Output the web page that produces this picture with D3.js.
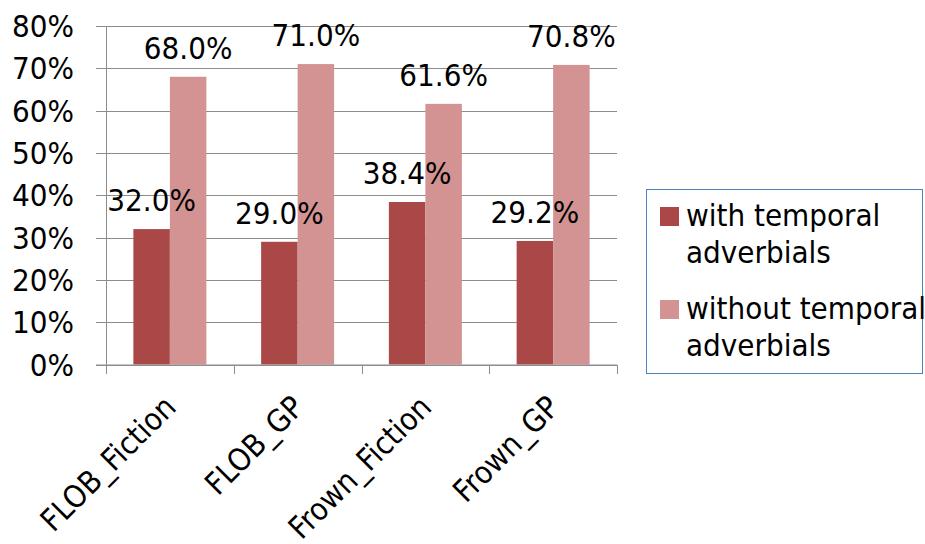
<!DOCTYPE html>
<html lang="en">
<head>
  <meta charset="UTF-8">
  <title>Temporal adverbials</title>
  <script src="https://d3js.org/d3.v7.min.js"></script>
  <style>
    body { margin: 0; background: #fff; }
    text { font-family: "DejaVu Sans Condensed", "DejaVu Sans", sans-serif; font-stretch: condensed; fill: #000; }
  </style>
</head>
<body>
  <div id="chart"></div>
  <script>
    const width = 925;
    const height = 544;

    // Datos
    const categories = ["FLOB_Fiction", "FLOB_GP", "Frown_Fiction", "Frown_GP"];
    const seriesNames = ["with temporal adverbials", "without temporal adverbials"];
    const withTemporal = [32.0, 29.0, 38.4, 29.2];
    const withoutTemporal = [68.0, 71.0, 61.6, 70.8];
    const yTicks = [0, 10, 20, 30, 40, 50, 60, 70, 80];
    const colors = ["#a94846", "#d29392"];

    const legendLines = [["with temporal", "adverbials"], ["without temporal", "adverbials"]];

    const rows = categories.map((c, i) => ({ cat: c, vals: [withTemporal[i], withoutTemporal[i]] }));

    const fs = 31;

    const svg = d3.select("#chart").append("svg")
      .attr("width", width)
      .attr("height", height);

    const x = d3.scaleBand().domain(categories).range([106, 617]).paddingInner(0).paddingOuter(0);
    const y = d3.scaleLinear().domain([0, 80]).range([364.5, 26]);
    const inner = d3.scaleBand().domain([0, 1]).range([0, 73]);

    // grid lines
    svg.append("g").selectAll("line").data(yTicks).join("line")
      .attr("x1", 96).attr("x2", 617)
      .attr("y1", d => Math.round(y(d)) + 0.5).attr("y2", d => Math.round(y(d)) + 0.5)
      .attr("stroke", "#8c8c8c").attr("stroke-width", 1);

    // y labels
    svg.append("g").selectAll("text").data(yTicks).join("text")
      .attr("x", 74).attr("y", d => y(d))
      .attr("dy", "0.36em")
      .attr("text-anchor", "end")
      .attr("font-size", fs)
      .text(d => d + "%");

    // bars
    const groups = svg.append("g").selectAll("g").data(rows).join("g")
      .attr("transform", d => `translate(${x(d.cat) + (x.bandwidth() - 73) / 2},0)`);

    groups.selectAll("rect").data(d => d.vals).join("rect")
      .attr("x", (d, i) => inner(i))
      .attr("width", inner.bandwidth())
      .attr("y", d => y(d))
      .attr("height", d => y(0) - y(d))
      .attr("fill", (d, i) => colors[i]);

    groups.selectAll("text").data(d => d.vals).join("text")
      .attr("x", (d, i) => inner(i) + inner.bandwidth() / 2)
      .attr("y", d => y(d) - 18)
      .attr("text-anchor", "middle")
      .attr("font-size", fs)
      .text(d => d.toFixed(1) + "%");

    // axes lines
    svg.append("line").attr("x1", 106.5).attr("x2", 106.5).attr("y1", 26).attr("y2", 365)
      .attr("stroke", "#8c8c8c");
    svg.append("line").attr("x1", 96).attr("x2", 617).attr("y1", 365).attr("y2", 365)
      .attr("stroke", "#8c8c8c");
    const xt = categories.map(c => x(c)).concat([617]);
    svg.append("g").selectAll("line").data(xt).join("line")
      .attr("x1", d => Math.round(d) + 0.5).attr("x2", d => Math.round(d) + 0.5)
      .attr("y1", 365).attr("y2", 374)
      .attr("stroke", "#8c8c8c");

    // x labels
    svg.append("g").selectAll("text").data(categories).join("text")
      .attr("transform", d => `translate(${x(d) + x.bandwidth() / 2 + 8},409) rotate(-45)`)
      .attr("text-anchor", "end")
      .attr("font-size", fs)
      .text(d => d);

    // legend
    const lg = svg.append("g");
    lg.append("rect").attr("x", 646.5).attr("y", 189.5).attr("width", 276).attr("height", 184)
      .attr("fill", "none").attr("stroke", "#4f81bd").attr("stroke-width", 1);
    seriesNames.forEach((s, i) => {
      const top = 207 + i * 93;
      lg.append("rect").attr("x", 660).attr("y", top).attr("width", 19).attr("height", 19)
        .attr("fill", colors[i]);
      lg.append("text").attr("x", 686).attr("y", top + 19).attr("font-size", fs)
        .selectAll("tspan").data(legendLines[i]).join("tspan")
        .attr("x", 686).attr("dy", (d, j) => j === 0 ? 0 : 37)
        .text(d => d);
    });
  </script>
</body>
</html>
